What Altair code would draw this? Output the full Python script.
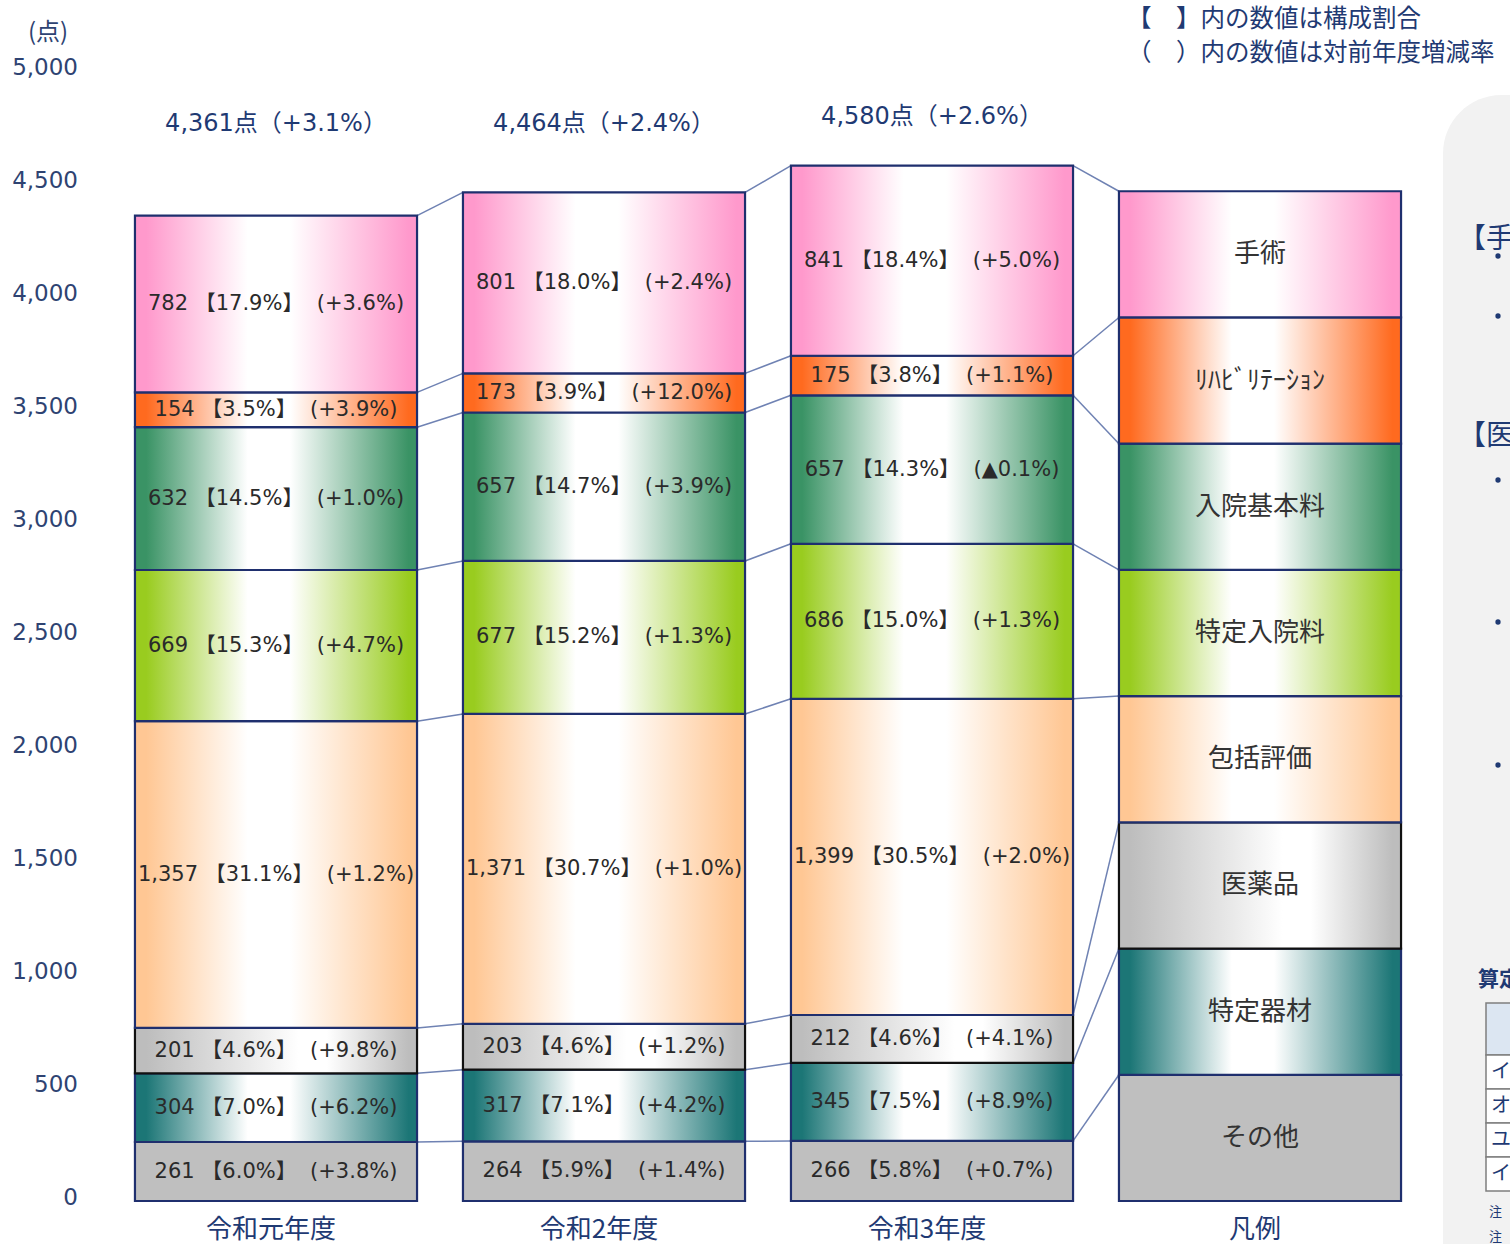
import altair as alt
import pandas as pd

# ---------------- data ----------------
x_labels = ["令和元年度", "令和2年度", "令和3年度", "凡例"]
categories = ["その他", "特定器材", "医薬品", "包括評価", "特定入院料", "入院基本料", "ﾘﾊﾋﾞﾘﾃｰｼｮﾝ", "手術"]

values_r1 = [261, 304, 201, 1357, 669, 632, 154, 782]
values_r2 = [264, 317, 203, 1371, 677, 657, 173, 801]
values_r3 = [266, 345, 212, 1399, 686, 657, 175, 841]
shares_r1 = [6.0, 7.0, 4.6, 31.1, 15.3, 14.5, 3.5, 17.9]
shares_r2 = [5.9, 7.1, 4.6, 30.7, 15.2, 14.7, 3.9, 18.0]
shares_r3 = [5.8, 7.5, 4.6, 30.5, 15.0, 14.3, 3.8, 18.4]
changes_r1 = [3.8, 6.2, 9.8, 1.2, 4.7, 1.0, 3.9, 3.6]
changes_r2 = [1.4, 4.2, 1.2, 1.0, 1.3, 3.9, 12.0, 2.4]
changes_r3 = [0.7, 8.9, 4.1, 2.0, 1.3, -0.1, 1.1, 5.0]
totals = [4361, 4464, 4580]
total_changes = [3.1, 2.4, 2.6]
y_ticks = [0, 500, 1000, 1500, 2000, 2500, 3000, 3500, 4000, 4500, 5000]

# ---------------- style ----------------
W, H = 1510, 1244
K = 0.226          # px per point
Y0 = 1201          # pixel of zero
X0, DX = 276, 328  # pixel of first column center, column spacing
HALF = 0.43        # half bar width in column units
LEGEND_STEP = 558.5

NAVY = "#1F3A73"
AXC = "#2E4372"
EDGE = "#1F2F6E"
TXT = "#2A2A2A"
FONT = "DejaVu Sans, Noto Sans CJK JP, sans-serif"
JFONT = "Noto Sans CJK JP, sans-serif"
SP = "\u00a0"

colors = {
    "その他": "#BFBFBF",
    "特定器材": "#1C7676",
    "医薬品": "#BDBDBD",
    "包括評価": "#FFC794",
    "特定入院料": "#99CC1F",
    "入院基本料": "#3A9365",
    "ﾘﾊﾋﾞﾘﾃｰｼｮﾝ": "#FF6A1F",
    "手術": "#FF99CC",
}


def fmt_change(c):
    return f"+{c:.1f}%" if c >= 0 else f"▲{abs(c):.1f}%"


# ---------------- tables ----------------
rows = []
tops = []
for i, (vals, shs, chs) in enumerate(
    [(values_r1, shares_r1, changes_r1), (values_r2, shares_r2, changes_r2), (values_r3, shares_r3, changes_r3)]
):
    cum = 0
    col_tops = []
    for j, cat in enumerate(categories):
        start = cum
        cum += vals[j]
        col_tops.append(cum)
        label = f"{vals[j]:,}{SP}【{shs[j]:.1f}%】{SP}{SP}({fmt_change(chs[j])})"
        rows.append(dict(idx=i, cat=cat, x=i - HALF, x2=i + HALF, y=start, y2=cum,
                         ymid=(start + cum) / 2, label=label))
    tops.append(col_tops)

leg_tops = []
for j, cat in enumerate(categories):
    start = j * LEGEND_STEP
    end = (j + 1) * LEGEND_STEP
    leg_tops.append(end)
    rows.append(dict(idx=3, cat=cat, x=3 - HALF, x2=3 + HALF, y=start, y2=end,
                     ymid=(start + end) / 2, label=cat))
tops.append(leg_tops)
seg = pd.DataFrame(rows)

con_rows = []
for i in range(3):
    for j in range(len(categories)):
        con_rows.append(dict(x=i + HALF, x2=i + 1 - HALF, y=tops[i][j], y2=tops[i + 1][j]))
con = pd.DataFrame(con_rows)

tot = pd.DataFrame(dict(idx=list(range(3)),
                        label=[f"{t:,}点（+{c:.1f}%）" for t, c in zip(totals, total_changes)]))
ytick_df = pd.DataFrame({"v": y_ticks})
xlab_df = pd.DataFrame({"idx": list(range(len(x_labels))), "t": x_labels})

# ---------------- scales ----------------
xscale = alt.Scale(domain=[(0 - X0) / DX, (W - X0) / DX], nice=False, zero=False)
yscale = alt.Scale(domain=[(Y0 - H) / K, Y0 / K], nice=False, zero=False)


def X(f):
    return alt.X(f, scale=xscale, axis=None)


def Y(f):
    return alt.Y(f, scale=yscale, axis=None)


def PY(f):
    return alt.Y(f, scale=None, axis=None)


def grad(color, lo=0.40, hi=0.55):
    return alt.LinearGradient(
        gradient="linear", x1=0, x2=1, y1=0, y2=0,
        stops=[
            alt.GradientStop(color=color, offset=0),
            alt.GradientStop(color=color, offset=0.04),
            alt.GradientStop(color="#FFFFFF", offset=lo),
            alt.GradientStop(color="#FFFFFF", offset=hi),
            alt.GradientStop(color=color, offset=0.97),
            alt.GradientStop(color=color, offset=1),
        ],
    )


layers = []

# decorative side panel (cropped in original)
dummy = pd.DataFrame({"a": [0]})
layers.append(alt.Chart(dummy).mark_rect(fill="#F2F2F2", cornerRadiusTopLeft=60).encode(
    x=alt.value(1443), x2=alt.value(1560), y=alt.value(95), y2=alt.value(1300)))
panel_txt = pd.DataFrame({"t": ["【手術】", "【医薬品】"], "y": [240, 437]})
layers.append(alt.Chart(panel_txt).mark_text(align="left", baseline="middle", font=JFONT, fontSize=28,
                                             color=NAVY).encode(
    x=alt.value(1458), y=PY("y:Q"), text="t:N"))
bullets = pd.DataFrame({"y": [256, 316, 480, 622, 765]})
layers.append(alt.Chart(bullets).mark_circle(size=28, color=NAVY, opacity=1).encode(
    x=alt.value(1498), y=PY("y:Q")))
layers.append(alt.Chart(dummy).mark_text(align="left", baseline="middle", font=JFONT, fontSize=21,
                                         fontWeight="bold", color=NAVY, text="算定").encode(
    x=alt.value(1478), y=alt.value(980)))
layers.append(alt.Chart(dummy).mark_rect(fill="#DCE6F2", stroke="#7F7F7F", strokeWidth=1.5).encode(
    x=alt.value(1486), x2=alt.value(1560), y=alt.value(1003), y2=alt.value(1055)))
tab_rows = pd.DataFrame({"y": [1055, 1089, 1123, 1157], "t": ["イ", "オ", "ユ", "イ"]})
layers.append(alt.Chart(tab_rows).transform_calculate(yb="datum.y+34").mark_rect(
    fill="white", stroke="#7F7F7F", strokeWidth=1.5).encode(
    x=alt.value(1486), x2=alt.value(1560), y=PY("y:Q"), y2="yb:Q"))
layers.append(alt.Chart(tab_rows).mark_text(align="left", baseline="middle", font=JFONT, fontSize=20,
                                            color=NAVY).encode(
    x=alt.value(1491), y=PY("y:Q"), yOffset=alt.value(17), text="t:N"))
notes = pd.DataFrame({"y": [1212, 1237], "t": ["注", "注"]})
layers.append(alt.Chart(notes).mark_text(align="left", baseline="middle", font=JFONT, fontSize=13,
                                         color=NAVY).encode(
    x=alt.value(1489), y=PY("y:Q"), text="t:N"))

# connectors
layers.append(alt.Chart(con).mark_rule(color="#6F82B3", strokeWidth=1.5).encode(
    x=X("x:Q"), x2="x2:Q", y=Y("y:Q"), y2="y2:Q"))

# segments
for cat in categories:
    c = colors[cat]
    if cat == "その他":
        fill = c
    elif cat == "医薬品":
        fill = grad(c, 0.58, 0.68)
    else:
        fill = grad(c)
    stroke = "#111111" if cat == "医薬品" else EDGE
    layers.append(alt.Chart(seg).transform_filter(alt.datum.cat == cat).mark_rect(
        fill=fill, stroke=stroke, strokeWidth=2.2).encode(
        x=X("x:Q"), x2="x2:Q", y=Y("y:Q"), y2="y2:Q"))

# in-bar labels
layers.append(alt.Chart(seg).transform_filter(alt.datum.idx < 3).mark_text(
    font=FONT, fontSize=21, color=TXT, baseline="middle").encode(
    x=X("idx:Q"), y=Y("ymid:Q"), text="label:N"))
# legend labels
layers.append(alt.Chart(seg).transform_filter(alt.datum.idx == 3).mark_text(
    font=JFONT, fontSize=26, color="#333333", baseline="middle").encode(
    x=X("idx:Q"), y=Y("ymid:Q"), text="label:N"))

# totals
layers.append(alt.Chart(tot).transform_filter(alt.datum.idx < 2).mark_text(
    font=FONT, fontSize=24, color=NAVY, baseline="middle").encode(
    x=X("idx:Q"), y=alt.value(124), text="label:N"))
layers.append(alt.Chart(tot).transform_filter(alt.datum.idx == 2).mark_text(
    font=FONT, fontSize=24, color=NAVY, baseline="middle").encode(
    x=X("idx:Q"), y=alt.value(117), text="label:N"))

# y tick labels (through the y scale)
layers.append(alt.Chart(ytick_df).mark_text(
    font=FONT, fontSize=23, color=AXC, align="right", baseline="middle").encode(
    x=alt.value(78), y=Y("v:Q"), yOffset=alt.value(-3), text=alt.Text("v:Q", format=",")))
# x labels (through the x scale)
layers.append(alt.Chart(xlab_df).mark_text(
    font=JFONT, fontSize=26, color=NAVY, baseline="middle").encode(
    x=X("idx:Q"), xOffset=alt.value(-5), y=alt.value(1230), text="t:N"))

# unit + notes
layers.append(alt.Chart(dummy).mark_text(font=JFONT, fontSize=24, color=AXC, baseline="middle",
                                         text="(点)").encode(x=alt.value(48), y=alt.value(33)))
note_df = pd.DataFrame({"t": ["【　】内の数値は構成割合", "（　）内の数値は対前年度増減率"], "y": [20, 54]})
layers.append(alt.Chart(note_df).mark_text(font=JFONT, fontSize=24.5, color=NAVY, align="left",
                                           baseline="middle").encode(
    x=alt.value(1127), y=PY("y:Q"), text="t:N"))

chart = alt.layer(*layers).properties(
    width=W, height=H,
    autosize=alt.AutoSizeParams(type="none"),
    padding={"left": 0, "top": 0, "right": 0, "bottom": 0},
    background="white",
).configure_view(strokeWidth=0)

chart.save("out.html", embed_options={"renderer": "svg", "actions": False})
